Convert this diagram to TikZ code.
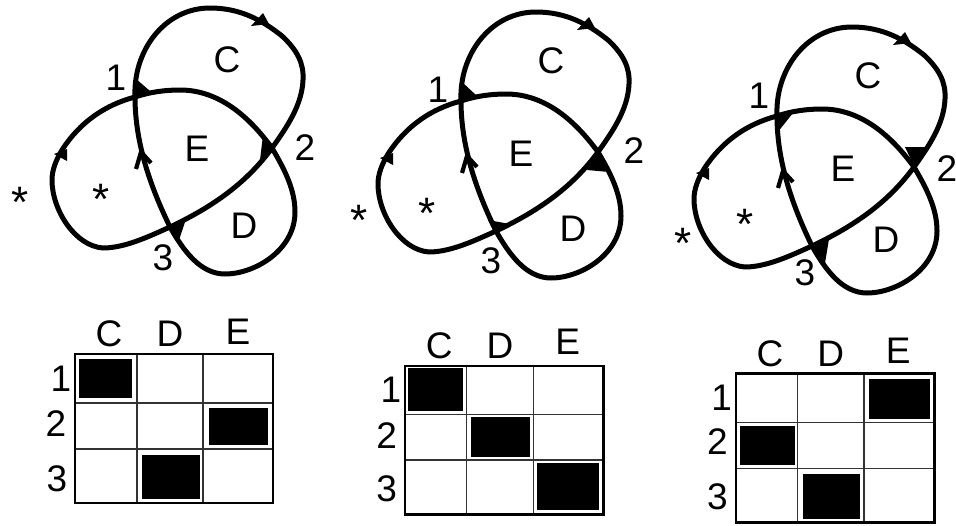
\documentclass[tikz,border=0pt]{standalone}
\usepackage{fontspec}
\setmainfont{Liberation Sans}
\newcommand{\knotcurve}{(170,227) .. controls (152,190) and (135,145) .. (135,97)
  .. controls (133,50) and (165,8) .. (210,8)
  .. controls (240,8) and (262,20) .. (282,36)
  .. controls (297,50) and (304,63) .. (303,80)
  .. controls (302,105) and (287,127) .. (272,148)
  .. controls (245,185) and (210,208) .. (170,227)
  .. controls (150,236) and (125,248) .. (103,248)
  .. controls (75,246) and (52,210) .. (52,180)
  .. controls (52,170) and (56,160) .. (62,150)
  .. controls (80,122) and (105,105) .. (135,97)
  .. controls (150,92) and (165,90) .. (180,90)
  .. controls (220,90) and (250,118) .. (272,148)
  .. controls (285,170) and (295,190) .. (295,212)
  .. controls (295,250) and (255,274) .. (225,274)
  .. controls (200,274) and (183,250) .. (170,227) -- cycle}
\newcommand{\knotarrows}{%
  \fill (251,26) -- (263,13) -- (269,24) -- cycle;
  \fill (54,154) -- (67,149) -- (67,161) -- cycle;
  \draw[chevron] (136,169) -- (141,152) -- (151,163);
}
\tikzset{
  lab/.style={inner sep=0pt,text height=26pt,text depth=0pt,font=\fontsize{37}{40}\selectfont},
  starlab/.style={inner sep=0pt,text height=26pt,text depth=0pt,font=\fontsize{44}{48}\selectfont},
  knotline/.style={line width=5pt,line join=round},
  chevron/.style={line width=4.2pt,line join=miter},
  thin grid/.style={line width=1.1pt,draw=black!80},
  frame/.style={line width=2.4pt,draw=black},
}
\begin{document}
\begin{tikzpicture}[x=1pt,y=-1pt]
\useasboundingbox (0,0) rectangle (956,525);
% knots
\begin{scope}
  \draw[knotline] \knotcurve; \knotarrows
\end{scope}
\begin{scope}[shift={(326,4)}]
  \draw[knotline] \knotcurve; \knotarrows
\end{scope}
\begin{scope}[shift={(642,19)}]
  \draw[knotline] \knotcurve; \knotarrows
\end{scope}
% crossing wedges
\fill (135,78) -- (150,91) -- (135,98) -- cycle;
\fill (263,135) -- (272,148) -- (260,160) -- cycle;
\fill (170,227) -- (185,222) -- (178,243) -- cycle;
\fill (462,82) -- (477,96) -- (460,102) -- cycle;
\fill (598,153) -- (609,172) -- (587,170) -- cycle;
\fill (488,220) -- (510,224) -- (495,233) -- cycle;
\fill (775,117) -- (793,113) -- (777,133) -- cycle;
\fill (905,147) -- (927,147) -- (915,168) -- cycle;
\fill (810,245) -- (829,239) -- (825,263) -- cycle;
% knot labels
\node[lab] (a1) at (116,77) {1};
\node[lab] (aC) at (227,59) {C};
\node[lab] (aE) at (197,148) {E};
\node[lab] (a2) at (305,147) {2};
\node[starlab] (aS) at (20,204) {*};
\node[starlab] (aT) at (101,201) {*};
\node[lab] (aD) at (244,225) {D};
\node[lab] (a3) at (163,257) {3};
\node[lab] (b1) at (438,89) {1};
\node[lab] (bC) at (551,60) {C};
\node[lab] (bE) at (521,153) {E};
\node[lab] (b2) at (634,150) {2};
\node[starlab] (bS) at (359,222) {*};
\node[starlab] (bT) at (427,215) {*};
\node[lab] (bD) at (573,228) {D};
\node[lab] (b3) at (491,260) {3};
\node[lab] (c1) at (759,95) {1};
\node[lab] (cC) at (868,75) {C};
\node[lab] (cE) at (843,168) {E};
\node[lab] (c2) at (947,168) {2};
\node[starlab] (cS) at (683,245) {*};
\node[starlab] (cT) at (745,226) {*};
\node[lab] (cD) at (886,239) {D};
\node[lab] (c3) at (805,272) {3};
% table 1
\fill (79.3,359) rectangle (131.7,397.7);
\fill (209.3,408) rectangle (268,444.7);
\fill (142,455) rectangle (200,498.7);
\draw[thin grid] (137,354) -- (137,503) (203,354) -- (203,503) (75,403) -- (273,403) (75,449) -- (273,449);
\draw[frame] (75,354) rectangle (273,503);
\node[lab] (ta) at (109,333) {C};
\node[lab] (tb) at (170,333) {D};
\node[lab] (tc) at (238,331) {E};
\node[lab] (td) at (61,378) {1};
\node[lab] (te) at (56,423) {2};
\node[lab] (tf) at (57,478) {3};
% table 2
\fill (408.3,368) rectangle (462.7,410.7);
\fill (471,417) rectangle (530,456.7);
\fill (537,463) rectangle (599,509.7);
\draw[thin grid] (466.7,365.7) -- (466.7,514.3) (533.3,365.7) -- (533.3,514.3) (405,414.3) -- (603.3,414.3) (405,460) -- (603.3,460);
\draw[frame] (405,365.7) rectangle (603.3,514.3);
\node[lab] (ua) at (439.3,345) {C};
\node[lab] (ub) at (500,345) {D};
\node[lab] (uc) at (567.7,341.7) {E};
\node[lab] (ud) at (391,389) {1};
\node[lab] (ue) at (386.7,435) {2};
\node[lab] (uf) at (386.7,488) {3};
% table 3
\fill (869,379) rectangle (930,419);
\fill (740,426) rectangle (795,465);
\fill (803.3,474) rectangle (860,519);
\draw[thin grid] (797.3,373.3) -- (797.3,522.3) (864,373.3) -- (864,522.3) (735.7,422.7) -- (934.3,422.7) (735.7,468.3) -- (934.3,468.3);
\draw[frame] (735.7,373.3) rectangle (934.3,522.3);
\node[lab] (va) at (770,353) {C};
\node[lab] (vb) at (830.7,353) {D};
\node[lab] (vc) at (898.3,350.7) {E};
\node[lab] (vd) at (721.7,397) {1};
\node[lab] (ve) at (717.3,441.7) {2};
\node[lab] (vf) at (717.3,496.7) {3};
\end{tikzpicture}
\end{document}
